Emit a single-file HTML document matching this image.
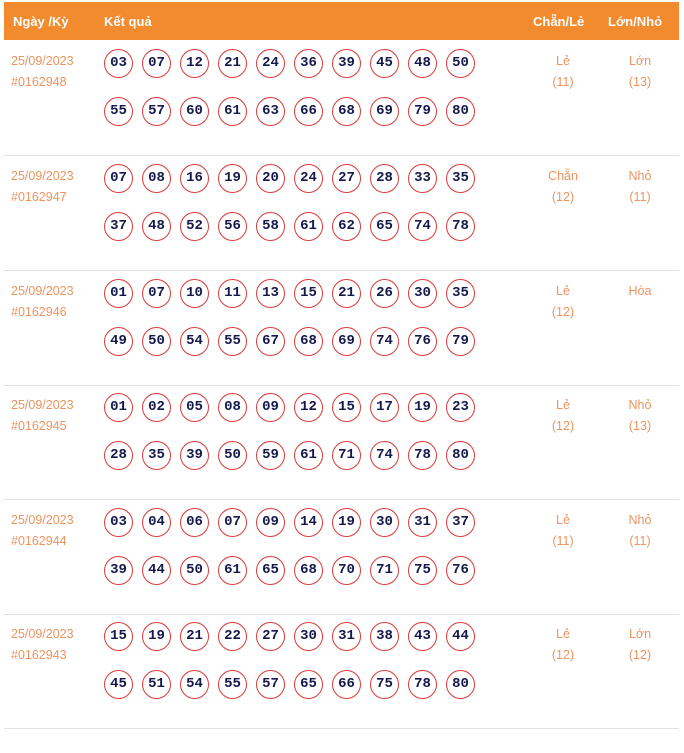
<!DOCTYPE html>
<html><head><meta charset="utf-8"><style>
body{margin:0;width:684px;height:753px;background:#fff;font-family:"Liberation Sans","DejaVu Sans",sans-serif;position:relative;overflow:hidden}
.hd{position:absolute;left:4px;top:2px;width:675px;height:38px;background:#f28a2e;color:#fff;font-weight:bold;font-size:13px}
.hd span{position:absolute;top:12px}
.row{position:absolute;left:4px;width:675px;height:114px;border-bottom:1px solid #e2e2e2}
.d{position:absolute;left:7px;color:#eb9460;font-size:12.5px;line-height:21px;top:10px}
.n{position:absolute;left:100px;top:8px;width:400px}
.n b{display:inline-block;width:27px;height:27px;border:1.5px solid #dc3b3b;border-radius:50%;margin:0 9px 19px 0;text-align:center;line-height:27px;font-family:"Liberation Mono","DejaVu Sans Mono",monospace;font-weight:bold;font-size:14px;color:#14184a;box-sizing:content-box}
.c{position:absolute;top:10px;width:70px;text-align:center;color:#eb9460;font-size:12.5px;line-height:21px}
</style></head><body>
<div class="hd"><span style="left:9px">Ngày /Kỳ</span><span style="left:100px">Kết quả</span><span style="left:529px">Chẵn/Lẻ</span><span style="left:604px">Lớn/Nhỏ</span></div>

<div class="row" style="top:41px"><div class="d">25/09/2023<br>#0162948</div><div class="n"><b>03</b><b>07</b><b>12</b><b>21</b><b>24</b><b>36</b><b>39</b><b>45</b><b>48</b><b>50</b><br><b>55</b><b>57</b><b>60</b><b>61</b><b>63</b><b>66</b><b>68</b><b>69</b><b>79</b><b>80</b></div><div class="c" style="left:524px">Lẻ<br>(11)</div><div class="c" style="left:601px">Lớn<br>(13)</div></div>

<div class="row" style="top:156px"><div class="d">25/09/2023<br>#0162947</div><div class="n"><b>07</b><b>08</b><b>16</b><b>19</b><b>20</b><b>24</b><b>27</b><b>28</b><b>33</b><b>35</b><br><b>37</b><b>48</b><b>52</b><b>56</b><b>58</b><b>61</b><b>62</b><b>65</b><b>74</b><b>78</b></div><div class="c" style="left:524px">Chẵn<br>(12)</div><div class="c" style="left:601px">Nhỏ<br>(11)</div></div>

<div class="row" style="top:271px"><div class="d">25/09/2023<br>#0162946</div><div class="n"><b>01</b><b>07</b><b>10</b><b>11</b><b>13</b><b>15</b><b>21</b><b>26</b><b>30</b><b>35</b><br><b>49</b><b>50</b><b>54</b><b>55</b><b>67</b><b>68</b><b>69</b><b>74</b><b>76</b><b>79</b></div><div class="c" style="left:524px">Lẻ<br>(12)</div><div class="c" style="left:601px">Hòa</div></div>

<div class="row" style="top:385px"><div class="d">25/09/2023<br>#0162945</div><div class="n"><b>01</b><b>02</b><b>05</b><b>08</b><b>09</b><b>12</b><b>15</b><b>17</b><b>19</b><b>23</b><br><b>28</b><b>35</b><b>39</b><b>50</b><b>59</b><b>61</b><b>71</b><b>74</b><b>78</b><b>80</b></div><div class="c" style="left:524px">Lẻ<br>(12)</div><div class="c" style="left:601px">Nhỏ<br>(13)</div></div>

<div class="row" style="top:500px"><div class="d">25/09/2023<br>#0162944</div><div class="n"><b>03</b><b>04</b><b>06</b><b>07</b><b>09</b><b>14</b><b>19</b><b>30</b><b>31</b><b>37</b><br><b>39</b><b>44</b><b>50</b><b>61</b><b>65</b><b>68</b><b>70</b><b>71</b><b>75</b><b>76</b></div><div class="c" style="left:524px">Lẻ<br>(11)</div><div class="c" style="left:601px">Nhỏ<br>(11)</div></div>

<div class="row" style="top:614px"><div class="d">25/09/2023<br>#0162943</div><div class="n"><b>15</b><b>19</b><b>21</b><b>22</b><b>27</b><b>30</b><b>31</b><b>38</b><b>43</b><b>44</b><br><b>45</b><b>51</b><b>54</b><b>55</b><b>57</b><b>65</b><b>66</b><b>75</b><b>78</b><b>80</b></div><div class="c" style="left:524px">Lẻ<br>(12)</div><div class="c" style="left:601px">Lớn<br>(12)</div></div>
</body></html>
